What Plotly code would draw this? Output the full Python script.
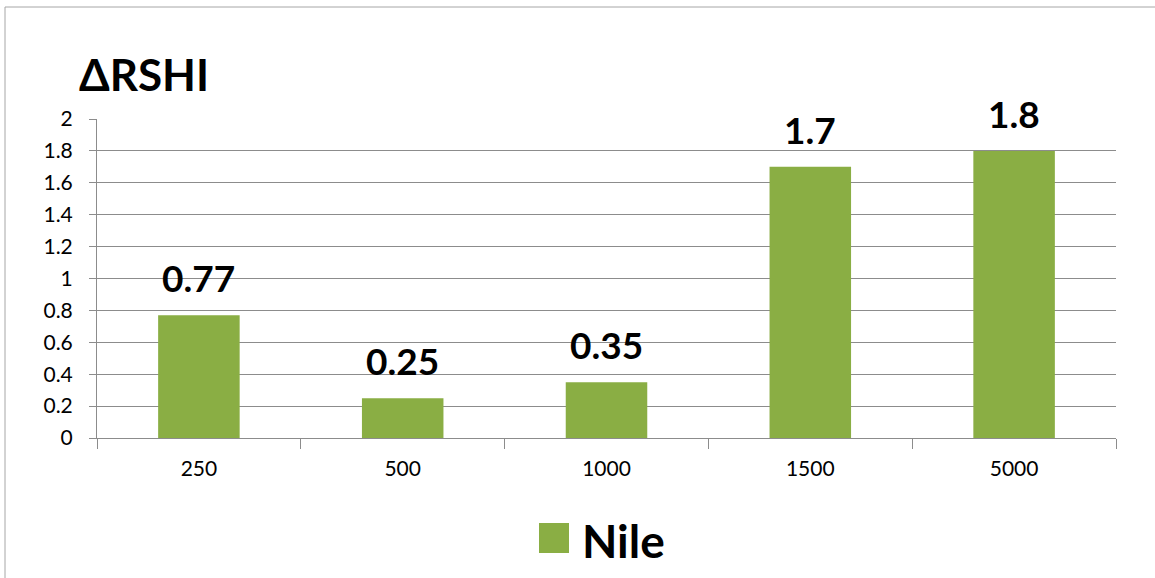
import plotly.graph_objects as go

# Chart data
categories = ["250", "500", "1000", "1500", "5000"]
values = [0.77, 0.25, 0.35, 1.7, 1.8]
series_name = "Nile"
chart_title = "ΔRSHI"
y_ticks = [0, 0.2, 0.4, 0.6, 0.8, 1, 1.2, 1.4, 1.6, 1.8, 2]
y_tick_text = ["0", "0.2", "0.4", "0.6", "0.8", "1", "1.2", "1.4", "1.6", "1.8", "2"]

FONT = "Lato"
BAR_COLOR = "#8AAE44"
GRID = "#8C8C8C"

fig = go.Figure()
fig.add_trace(go.Bar(
    x=categories,
    y=values,
    name=series_name,
    marker=dict(color=BAR_COLOR, line=dict(width=0)),
    showlegend=False,
))

# Value labels above each bar (positioned by category index)
for i, v in enumerate(values):
    fig.add_annotation(
        x=i, y=v, text=f"<b>{v:g}</b>", showarrow=False,
        yanchor="bottom", yshift=13,
        font=dict(family=FONT, size=37, color="#000000"),
    )

# Chart title
fig.add_annotation(
    xref="paper", yref="paper", x=-0.02, y=1.14,
    text=f"<b>{chart_title}</b>", showarrow=False,
    xanchor="left", yanchor="middle",
    font=dict(family=FONT, size=44, color="#000000"),
)

# Legend: swatch and label
fig.add_shape(
    type="rect", xref="paper", yref="paper",
    x0=(539 - 97) / 1019, x1=(569 - 97) / 1019,
    y0=(438 - 553) / 319, y1=(438 - 523) / 319,
    fillcolor=BAR_COLOR, line=dict(width=0),
)
fig.add_annotation(
    xref="paper", yref="paper", x=(580 - 97) / 1019, y=(438 - 540) / 319,
    text=f"<b>{series_name}</b>", showarrow=False,
    xanchor="left", yanchor="middle",
    font=dict(family=FONT, size=46, color="#000000"),
)

# Outer chart frame (left and top edges)
fig.add_shape(type="line", xref="paper", yref="paper",
              x0=(5 - 97) / 1019, x1=(5 - 97) / 1019,
              y0=(438 - 578) / 319, y1=(438 - 7) / 319,
              line=dict(color="#A6A6A6", width=1))
fig.add_shape(type="line", xref="paper", yref="paper",
              x0=(5 - 97) / 1019, x1=(1155 - 97) / 1019,
              y0=(438 - 7) / 319, y1=(438 - 7) / 319,
              line=dict(color="#A6A6A6", width=1))

fig.update_layout(
    width=1155, height=578,
    margin=dict(l=97, r=39, t=119, b=140),
    paper_bgcolor="white", plot_bgcolor="white",
    bargap=0.6,
    showlegend=False,
    font=dict(family=FONT, color="#000000"),
)
fig.update_xaxes(
    type="category", categoryorder="array", categoryarray=categories,
    range=[-0.5, len(categories) - 0.5], tickangle=0,
    showgrid=False, showline=True, linecolor=GRID, linewidth=1,
    ticks="outside", tickson="boundaries", ticklen=10, tickcolor=GRID,
    tickfont=dict(family=FONT, size=21, color="#000000"),
    ticklabelstandoff=12,
)
fig.update_yaxes(
    range=[0, 2], tickmode="array", tickvals=y_ticks, ticktext=y_tick_text,
    showgrid=True, gridcolor=GRID, gridwidth=1,
    showline=True, linecolor=GRID, linewidth=1,
    ticks="outside", ticklen=7, tickcolor=GRID,
    tickfont=dict(family=FONT, size=21, color="#000000"),
    ticklabelstandoff=12,
    zeroline=False,
)

fig.write_html("out.html")
